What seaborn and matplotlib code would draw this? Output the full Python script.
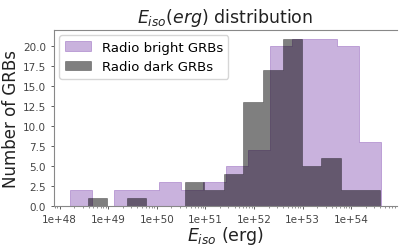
import numpy as np
import seaborn as sns
import matplotlib
matplotlib.use('Agg')
import matplotlib.pyplot as plt
from matplotlib.ticker import FuncFormatter, FixedLocator, MultipleLocator, FormatStrFormatter

# bin edges (log10 erg) and counts
bright_edges = [48.21, 48.67, 49.13, 49.59, 50.04, 50.50, 50.96, 51.42,
                51.88, 52.33, 52.79, 53.25, 53.71, 54.17, 54.62]
bright_counts = [2, 0, 2, 2, 3, 2, 3, 5, 7, 20, 21, 21, 20, 8]

dark_edges = [48.58, 48.98, 49.38, 49.78, 50.18, 50.58, 50.98, 51.38,
              51.78, 52.19, 52.59, 52.99, 53.39, 53.79, 54.19, 54.59]
dark_counts = [1, 0, 1, 0, 0, 3, 2, 4, 13, 17, 21, 5, 6, 2, 2]

xticks = [1e48, 1e49, 1e50, 1e51, 1e52, 1e53, 1e54]
labels = ['Radio bright GRBs', 'Radio dark GRBs']

# one sample per bin at its log centre, weighted by the count
bright_x = [10 ** ((a + b) / 2) for a, b in zip(bright_edges[:-1], bright_edges[1:])]
dark_x = [10 ** ((a + b) / 2) for a, b in zip(dark_edges[:-1], dark_edges[1:])]

fig, ax = plt.subplots(figsize=(4.07, 2.51), dpi=100)
fig.subplots_adjust(left=0.133, right=0.975, top=0.876, bottom=0.175)

sns.histplot(x=bright_x, weights=bright_counts, bins=bright_edges, log_scale=True,
             element='step', fill=True, color='tab:purple', alpha=0.5,
             edgecolor=(0.58, 0.40, 0.74, 0.5), linewidth=0.7, label=labels[0], ax=ax)
sns.histplot(x=dark_x, weights=dark_counts, bins=dark_edges, log_scale=True,
             element='step', fill=True, color='black', alpha=0.5,
             edgecolor=(0, 0, 0, 0.3), linewidth=0.7, label=labels[1], ax=ax)

ax.xaxis.set_major_locator(FixedLocator(xticks))
ax.xaxis.set_major_formatter(FuncFormatter(lambda v, p: f'{v:.0e}'))
ax.yaxis.set_major_locator(MultipleLocator(2.5))
ax.yaxis.set_major_formatter(FormatStrFormatter('%.1f'))
ax.tick_params(axis='both', labelsize=7.5, colors='#444444', length=2.5, width=0.6)
ax.tick_params(axis='x', which='minor', length=1.5, width=0.5, colors='#666666')

for side in ['left', 'top', 'bottom']:
    ax.spines[side].set_color('#888888')
    ax.spines[side].set_linewidth(0.8)
ax.spines['right'].set_visible(False)

ax.set_title('$E_{iso}(erg)$ distribution', fontsize=12.5, color='#222222')
ax.set_xlabel('$E_{iso}$ (erg)', fontsize=12.5, color='#222222', labelpad=0)
ax.set_ylabel('Number of GRBs', fontsize=12, color='#222222', labelpad=2)
ax.legend(loc='upper left', fontsize=9.5, framealpha=0.8, borderaxespad=0.4)

plt.savefig('out.png', dpi=100)
